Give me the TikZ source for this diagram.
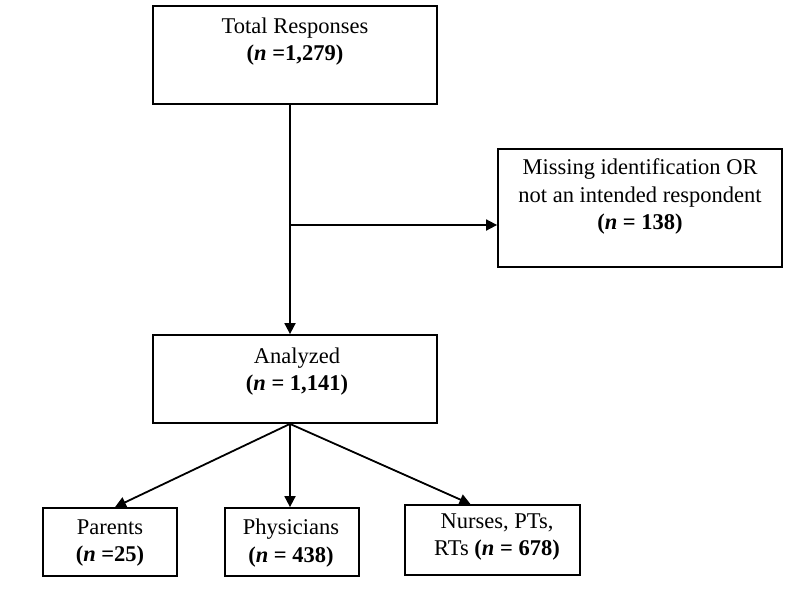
\documentclass[tikz,border=0pt]{standalone}
\usepackage{fontspec}
\setmainfont{Liberation Serif}
\usetikzlibrary{arrows.meta}
\begin{document}
\begin{tikzpicture}[x=1pt,y=-1pt,
  box/.style={draw=black,line width=1.8pt,rectangle,inner sep=0pt},
  lbl/.style={align=center,inner sep=0pt,font=\fontsize{22.5}{27.5}\selectfont},
  arr/.style={draw=black,line width=1.8pt,-{Triangle[length=11pt,width=11pt]}}]
\useasboundingbox[fill=white] (0,0) rectangle (800,595);
% boxes
\node[box,minimum width=284pt,minimum height=98pt] (top) at (295,55) {};
\node[box,minimum width=284pt,minimum height=118pt] (miss) at (640,208) {};
\node[box,minimum width=284pt,minimum height=88pt] (ana) at (295,379) {};
\node[box,minimum width=134pt,minimum height=68pt] (par) at (110,542) {};
\node[box,minimum width=134pt,minimum height=68pt] (phy) at (292,542) {};
\node[box,minimum width=175pt,minimum height=70pt] (nur) at (492.5,540) {};
% labels
\node[lbl] (topT) at (295,41.5) {Total Responses\\ \textbf{(\textit{n} =1,279)}};
\node[lbl] (missT) at (640,196.5) {Missing identification OR\\not an intended respondent\\ \textbf{(\textit{n} = 138)}};
\node[lbl] (anaT) at (297,371.5) {Analyzed\\ \textbf{(\textit{n} = 1,141)}};
\node[lbl] (parT) at (110,543) {Parents\\ \textbf{(\textit{n} =25)}};
\node[lbl] (phyT) at (291,543) {Physicians\\ \textbf{(\textit{n} = 438)}};
\node[lbl] (nurT) at (497,537) {Nurses, PTs,\\RTs \textbf{(\textit{n} = 678)}};
% connectors
\coordinate (br) at ([xshift=-5pt]top.south |- 0,225);
\draw[arr] ([xshift=-5pt]top.south) -- ([xshift=-5pt]ana.north);
\draw[arr] (br) -- (miss.west |- br);
\coordinate (split) at ([xshift=-5pt]ana.south);
\draw[arr] (split) -- ([xshift=5pt]par.north);
\draw[arr] (split) -- ([xshift=-2pt]phy.north);
\draw[arr] (split) -- ([xshift=-22pt]nur.north);
\end{tikzpicture}
\end{document}
